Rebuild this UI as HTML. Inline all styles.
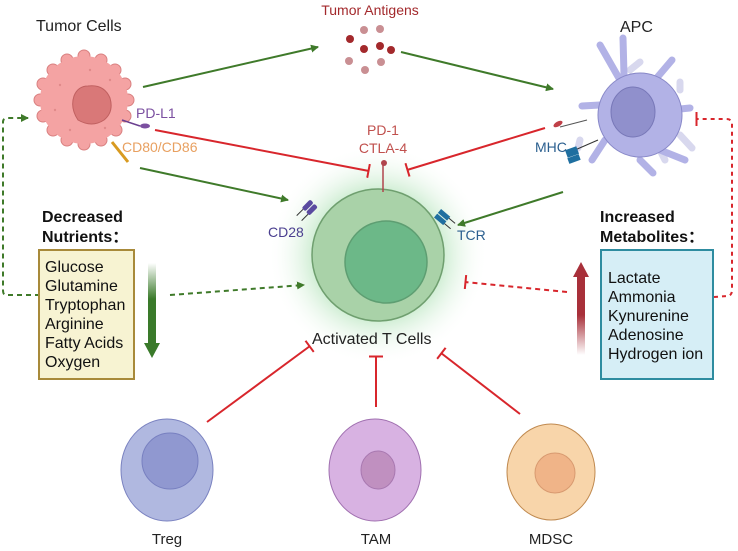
<!DOCTYPE html>
<html><head><meta charset="utf-8"><style>
html,body{margin:0;padding:0;background:#fff;}
svg{display:block;font-family:"Liberation Sans",sans-serif;}
</style></head><body>
<svg width="738" height="551" viewBox="0 0 738 551" xmlns="http://www.w3.org/2000/svg">
<defs>
<radialGradient id="glow" cx="50%" cy="50%" r="50%">
<stop offset="0.5" stop-color="#7fd08a" stop-opacity="0.55"/>
<stop offset="1" stop-color="#ffffff" stop-opacity="0"/>
</radialGradient>
<linearGradient id="gdown" x1="0" y1="0" x2="0" y2="1">
<stop offset="0" stop-color="#3a7a2a" stop-opacity="0"/>
<stop offset="0.45" stop-color="#3a7a2a"/>
<stop offset="1" stop-color="#3a7a2a"/>
</linearGradient>
<linearGradient id="rup" x1="0" y1="1" x2="0" y2="0">
<stop offset="0" stop-color="#a8303a" stop-opacity="0"/>
<stop offset="0.5" stop-color="#a8303a"/>
<stop offset="1" stop-color="#a8303a"/>
</linearGradient>
<marker id="ag" markerWidth="8" markerHeight="8" refX="7" refY="4" orient="auto" markerUnits="userSpaceOnUse" viewBox="0 0 8 8"><path d="M0,0 L8,4 L0,8 z" fill="#3f7a2a"/></marker>
<marker id="tb" markerWidth="4" markerHeight="14" refX="2" refY="7" orient="auto" markerUnits="userSpaceOnUse"><rect x="0.5" y="0" width="2" height="14" fill="#d8262c"/></marker>
</defs>

<!-- Tumor cell -->
<g fill="#f4a3a3" stroke="#d98080" stroke-width="1">
<circle cx="84" cy="56" r="6"/><circle cx="101" cy="60" r="6"/><circle cx="115" cy="70" r="6"/><circle cx="125" cy="84" r="6"/><circle cx="128" cy="100" r="6"/><circle cx="125" cy="116" r="6"/><circle cx="116" cy="130" r="6"/><circle cx="101" cy="140" r="6"/><circle cx="84" cy="144" r="6"/><circle cx="67" cy="140" r="6"/><circle cx="53" cy="130" r="6"/><circle cx="43" cy="116" r="6"/><circle cx="40" cy="100" r="6"/><circle cx="43" cy="84" r="6"/><circle cx="53" cy="70" r="6"/><circle cx="67" cy="60" r="6"/>
</g>
<circle cx="84" cy="100" r="44" fill="#f4a3a3"/>
<g fill="#e08a8a"><circle cx="60" cy="85" r="1.2"/><circle cx="110" cy="80" r="1.2"/><circle cx="70" cy="130" r="1.2"/><circle cx="105" cy="128" r="1.2"/><circle cx="55" cy="110" r="1.2"/><circle cx="90" cy="70" r="1.2"/></g>
<path d="M88,86 Q104,84 110,98 Q114,112 104,120 Q92,128 78,120 Q70,108 74,96 Q78,86 88,86Z" fill="#d97878" stroke="#c06060"/>
<line x1="122" y1="120" x2="140" y2="126" stroke="#6a3f90" stroke-width="1.5"/>
<ellipse cx="145" cy="126" rx="5" ry="2.5" fill="#7b4fa0"/>
<line x1="112" y1="142" x2="128" y2="162" stroke="#d89a20" stroke-width="3"/>

<text x="36" y="31" font-size="16" fill="#222">Tumor Cells</text>
<text x="136" y="118" font-size="14" fill="#7b4fa0">PD-L1</text>
<text x="122" y="152" font-size="14" fill="#e8a060">CD80/CD86</text>

<!-- Antigens -->
<text x="370" y="15" font-size="14" fill="#a3292c" text-anchor="middle">Tumor Antigens</text>
<g fill="#c98f93"><circle cx="364" cy="30" r="4"/><circle cx="349" cy="61" r="4"/><circle cx="365" cy="70" r="4"/><circle cx="381" cy="62" r="4"/><circle cx="380" cy="29" r="4"/></g>
<g fill="#a3292c"><circle cx="350" cy="39" r="4"/><circle cx="364" cy="49" r="4"/><circle cx="380" cy="46" r="4"/><circle cx="391" cy="50" r="4"/></g>

<!-- APC -->
<g stroke="#d8d8ee" stroke-width="7" stroke-linecap="round" fill="none">
<path d="M630,70 L640,62"/><path d="M680,90 L680,82"/><path d="M680,135 L692,148"/><path d="M660,150 L665,160"/><path d="M580,140 L578,148"/></g>
<g stroke="#b2b2e6" stroke-width="7" stroke-linecap="round" fill="none">
<path d="M620,80 L600,45"/><path d="M624,75 L623,38"/><path d="M655,80 L672,60"/><path d="M600,105 L582,106"/><path d="M605,140 L592,160"/><path d="M640,160 L653,173"/><path d="M660,150 L685,160"/><path d="M670,110 L690,108"/></g>
<circle cx="640" cy="115" r="42" fill="#b2b2e6" stroke="#8888c8"/>
<ellipse cx="633" cy="112" rx="22" ry="25" fill="#9090cc" stroke="#7878b8"/>
<line x1="587" y1="120" x2="560" y2="127" stroke="#555" stroke-width="1"/>
<ellipse cx="558" cy="124" rx="5" ry="2.5" fill="#c04048" transform="rotate(-30 558 124)"/>
<line x1="598" y1="140" x2="575" y2="150" stroke="#333"/>
<rect x="566" y="148" width="12" height="8" fill="#1f6fa0" transform="rotate(-20 572 152)"/>
<rect x="568" y="156" width="12" height="6" fill="#1f6fa0" transform="rotate(-20 574 159)"/>
<text x="620" y="32" font-size="16" fill="#222">APC</text>
<text x="535" y="152" font-size="14" fill="#2b5f8f">MHC</text>

<!-- T cell -->
<circle cx="378" cy="255" r="110" fill="url(#glow)"/>
<circle cx="378" cy="255" r="66" fill="#a9d2a8" stroke="#6f9f6f" stroke-width="1.5"/>
<circle cx="386" cy="262" r="41" fill="#6cb888" stroke="#5e9e72" stroke-width="1.5"/>
<line x1="383" y1="192" x2="383" y2="165" stroke="#b0454d" stroke-width="1.5"/>
<circle cx="384" cy="163" r="3" fill="#b0454d"/>
<text x="383" y="135" font-size="14" fill="#c0504d" text-anchor="middle">PD-1</text>
<text x="383" y="153" font-size="14" fill="#c0504d" text-anchor="middle">CTLA-4</text>
<g transform="rotate(45 308 210)"><rect x="302" y="201" width="5" height="12" rx="2" fill="#5a4aa0"/><rect x="308" y="201" width="5" height="12" rx="2" fill="#5a4aa0"/><line x1="304" y1="213" x2="304" y2="222" stroke="#333"/><line x1="311" y1="213" x2="311" y2="222" stroke="#333"/></g>
<g transform="rotate(-50 444 218)"><rect x="438" y="210" width="5" height="12" fill="#1f6fa0"/><rect x="444" y="210" width="5" height="12" fill="#1f6fa0"/><line x1="440" y1="222" x2="440" y2="230" stroke="#333"/><line x1="447" y1="222" x2="447" y2="230" stroke="#333"/></g>
<text x="268" y="237" font-size="14" fill="#4a3f8f">CD28</text>
<text x="457" y="240" font-size="14" fill="#2b5f8f">TCR</text>
<text x="312" y="344" font-size="16" fill="#222">Activated T Cells</text>

<!-- arrows -->
<line x1="143" y1="87" x2="318" y2="47" stroke="#3f7a2a" stroke-width="2" marker-end="url(#ag)"/>
<line x1="401" y1="52" x2="553" y2="89" stroke="#3f7a2a" stroke-width="2" marker-end="url(#ag)"/>
<line x1="140" y1="168" x2="288" y2="200" stroke="#3f7a2a" stroke-width="2" marker-end="url(#ag)"/>
<line x1="563" y1="192" x2="458" y2="225" stroke="#3f7a2a" stroke-width="2" marker-end="url(#ag)"/>
<line x1="155" y1="130" x2="369" y2="171" stroke="#d8262c" stroke-width="2" marker-end="url(#tb)"/>
<line x1="545" y1="128" x2="407" y2="170" stroke="#d8262c" stroke-width="2" marker-end="url(#tb)"/>

<!-- dotted -->
<path d="M40,295 L6,295 Q3,295 3,290 L3,122 Q3,118 8,118 L28,118" fill="none" stroke="#3f7a2a" stroke-width="2" stroke-dasharray="5,4" marker-end="url(#ag)"/>
<line x1="170" y1="295" x2="304" y2="285" stroke="#3f7a2a" stroke-width="2" stroke-dasharray="5,4" marker-end="url(#ag)"/>
<line x1="567" y1="292" x2="465" y2="282" stroke="#d8262c" stroke-width="2" stroke-dasharray="5,4" marker-end="url(#tb)"/>
<path d="M714,297 L728,296 Q732,295 732,290 L732,124 Q732,119 726,119 L696,119" fill="none" stroke="#d8262c" stroke-width="2" stroke-dasharray="4,4" marker-end="url(#tb)"/>

<!-- Nutrients -->
<text x="42" y="222" font-size="16" font-weight="bold" fill="#111">Decreased</text>
<text x="42" y="242" font-size="16" font-weight="bold" fill="#111">Nutrients：</text>
<rect x="39" y="250" width="95" height="129" fill="#f7f3d2" stroke="#a88a3a" stroke-width="2"/>
<g font-size="16" fill="#111"><text x="45" y="272">Glucose</text><text x="45" y="291">Glutamine</text><text x="45" y="310">Tryptophan</text><text x="45" y="329">Arginine</text><text x="45" y="348">Fatty Acids</text><text x="45" y="367">Oxygen</text></g>
<rect x="148" y="263" width="8" height="80" fill="url(#gdown)"/>
<path d="M144,343 L160,343 L152,358 Z" fill="#3a7a2a"/>

<!-- Metabolites -->
<text x="600" y="222" font-size="16" font-weight="bold" fill="#111">Increased</text>
<text x="600" y="242" font-size="16" font-weight="bold" fill="#111">Metabolites：</text>
<rect x="601" y="250" width="112" height="129" fill="#d6eef6" stroke="#2e8ca0" stroke-width="2"/>
<g font-size="16" fill="#111"><text x="608" y="283">Lactate</text><text x="608" y="302">Ammonia</text><text x="608" y="321">Kynurenine</text><text x="608" y="340">Adenosine</text><text x="608" y="359">Hydrogen ion</text></g>
<rect x="577" y="275" width="8" height="80" fill="url(#rup)"/>
<path d="M573,277 L589,277 L581,262 Z" fill="#a8303a"/>

<!-- suppressors -->
<line x1="207" y1="422" x2="310" y2="346" stroke="#d8262c" stroke-width="2" marker-end="url(#tb)"/>
<line x1="376" y1="407" x2="376" y2="356" stroke="#d8262c" stroke-width="2" marker-end="url(#tb)"/>
<line x1="520" y1="414" x2="441" y2="353" stroke="#d8262c" stroke-width="2" marker-end="url(#tb)"/>

<ellipse cx="167" cy="470" rx="46" ry="51" fill="#b0b8e0" stroke="#7a82c0"/>
<circle cx="170" cy="461" r="28" fill="#9098d0" stroke="#7880c0"/>
<ellipse cx="375" cy="470" rx="46" ry="51" fill="#d8b2e2" stroke="#a070b0"/>
<ellipse cx="378" cy="470" rx="17" ry="19" fill="#c090c0" stroke="#a878b0"/>
<ellipse cx="551" cy="472" rx="44" ry="48" fill="#f8d5aa" stroke="#c08a50"/>
<circle cx="555" cy="473" r="20" fill="#f0b488" stroke="#d89a70"/>
<text x="167" y="544" font-size="15" fill="#222" text-anchor="middle">Treg</text>
<text x="376" y="544" font-size="15" fill="#222" text-anchor="middle">TAM</text>
<text x="551" y="544" font-size="15" fill="#222" text-anchor="middle">MDSC</text>
</svg>
</body></html>
